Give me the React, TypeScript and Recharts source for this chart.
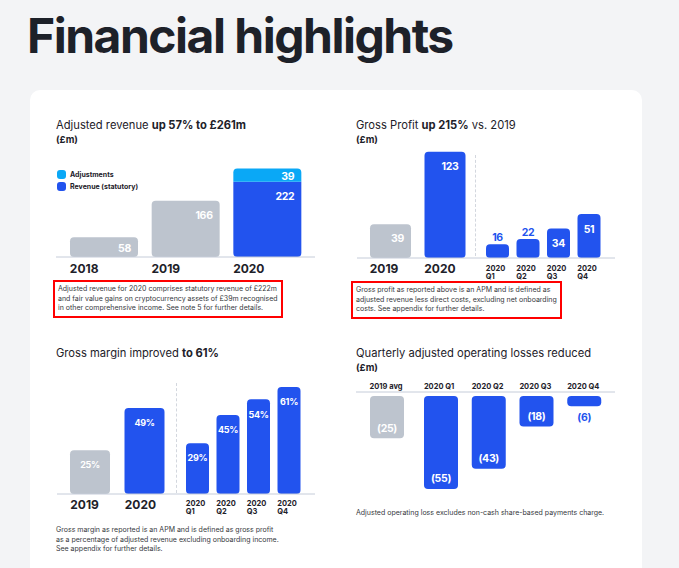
import React from "react";
import { BarChart, Bar, XAxis, YAxis, Cell, LabelList, Legend, Rectangle } from "recharts";

const BLUE = "#2253ee";
const CYAN = "#0aa8f6";
const GRAY = "#bdc4ce";
const AXIS = "#c5ccd9";
const INK = "#1d2129";
const NOTE = "#35383d";
const PAGE = "#f3f4f6";
const FONT = "Inter, 'Noto Sans', sans-serif";

// Adjusted revenue (£m)
const revenueYears = ["2018", "2019", "2020"];
const revenueStatutory = [58, 166, 222];
const revenueAdjustments = [null, null, 39];

// Gross profit (£m)
const profitYears = ["2019", "2020"];
const profitAnnual = [39, 123];
const profitQuarters = ["2020 Q1", "2020 Q2", "2020 Q3", "2020 Q4"];
const profitQuarterly = [16, 22, 34, 51];

// Gross margin (%)
const marginYears = ["2019", "2020"];
const marginAnnual = [25, 49];
const marginQuarters = ["2020 Q1", "2020 Q2", "2020 Q3", "2020 Q4"];
const marginQuarterly = [29, 45, 54, 61];

// Adjusted operating loss (£m)
const lossBaseline = ["2019 avg"];
const lossBaselineValues = [-25];
const lossQuarters = ["2020 Q1", "2020 Q2", "2020 Q3", "2020 Q4"];
const lossQuarterly = [-55, -43, -18, -6];

const revenueData = revenueYears.map((label, i) => ({
  label,
  statutory: revenueStatutory[i],
  adjustments: revenueAdjustments[i],
}));
const rows = (labels: string[], values: number[]) =>
  labels.map((label, i) => ({ label, value: values[i] }));

const barColor = (label: string) => (label.startsWith("2020") ? BLUE : GRAY);
const noMargin = { top: 0, right: 0, bottom: 0, left: 0 };

function labelText(x: number, cy: number, text: string, fill: string, anchor = "middle", size = 10.5) {
  return (
    <text
      x={x}
      y={cy}
      dy="0.36em"
      fill={fill}
      textAnchor={anchor}
      fontSize={size}
      fontWeight={700}
      letterSpacing={-0.3}
      fontFamily={FONT}
    >
      {text}
    </text>
  );
}

function geom(p: any) {
  const top = Math.min(p.y, p.y + p.height);
  const h = Math.abs(p.height);
  return { top, h, bottom: top + h, cx: p.x + p.width / 2, right: p.x + p.width };
}

// value inside the bar, near its top right corner
const rightLabel = (p: any) => {
  if (p.value == null) return null;
  const g = geom(p);
  return labelText(g.right - 7, g.top + Math.min(14, g.h / 2 + 1), String(p.value), "#fff", "end");
};

// value centred inside the bar, or above it in blue when the bar is short
const centerLabel = (suffix: string, size = 10.5) => (p: any) => {
  const g = geom(p);
  const text = `${p.value}${suffix}`;
  if (g.h < 24) return labelText(g.cx, g.top - 7, text, BLUE, "middle", size);
  return labelText(g.cx, g.top + 15, text, "#fff", "middle", size);
};

// losses shown in brackets near the bar end
const lossLabel = (p: any) => {
  const g = geom(p);
  const text = `(${Math.abs(p.value)})`;
  if (g.h < 20) return labelText(g.cx, g.bottom + 11, text, BLUE);
  return labelText(g.cx, g.bottom - 10.5, text, "#fff");
};

function YearTick(props: any) {
  const { x, y, payload, half, dy } = props;
  return (
    <text x={x - half} y={y + dy} fill={INK} fontSize={12} fontWeight={700} fontFamily={FONT}>
      {payload.value}
    </text>
  );
}

function QuarterTick(props: any) {
  const { x, y, payload, half, dy } = props;
  const [year, q] = String(payload.value).split(" ");
  return (
    <text x={x - half} fill={INK} fontSize={7.5} fontWeight={700} fontFamily={FONT}>
      <tspan x={x - half} y={y + dy}>{year}</tspan>
      <tspan x={x - half} y={y + dy + 8}>{q}</tspan>
    </text>
  );
}

function TopTick(props: any) {
  const { x, y, payload, half } = props;
  return (
    <text x={x - half} y={y - 3} fill={INK} fontSize={7.5} fontWeight={700} fontFamily={FONT}>
      {payload.value}
    </text>
  );
}

const statutoryShape = (p: any) => (
  <Rectangle {...p} radius={p.payload && p.payload.adjustments != null ? [0, 0, 4, 4] : 4} />
);

function RevenueLegend(props: any) {
  const items = [...(props.payload || [])].sort((a: any, b: any) =>
    a.value === "Adjustments" ? -1 : b.value === "Adjustments" ? 1 : 0
  );
  return (
    <div>
      {items.map((it: any) => (
        <div key={it.value} style={{ display: "flex", alignItems: "center", height: 12 }}>
          <span style={{ width: 9, height: 9, borderRadius: 3, background: it.color, marginRight: 4 }} />
          <span style={{ fontSize: 7, fontWeight: 700, color: INK, fontFamily: FONT }}>{it.value}</span>
        </div>
      ))}
    </div>
  );
}

function Abs({ left, top, children, style }: any) {
  return <div style={{ position: "absolute", left, top, ...style }}>{children}</div>;
}

function Title({ x, cy, children }: any) {
  return (
    <Abs left={x} top={cy - 8} style={{ fontSize: 11.2, lineHeight: "16px", color: INK, whiteSpace: "nowrap" }}>
      {children}
    </Abs>
  );
}

function Unit({ x, cy }: any) {
  return (
    <Abs left={x} top={cy - 6} style={{ fontSize: 9.5, lineHeight: "12px", fontWeight: 700, color: INK }}>
      (£m)
    </Abs>
  );
}

function Note({ x, top, children, boxed }: any) {
  return (
    <Abs
      left={x}
      top={top}
      style={{
        fontSize: 7,
        lineHeight: "9.5px",
        color: NOTE,
        whiteSpace: "nowrap",
        padding: boxed ? "2px 3px 3px 3px" : 0,
        border: boxed ? "2px solid #ff0000" : "none",
      }}
    >
      {children}
    </Abs>
  );
}

function SimpleBars({ data, width, height, domain, padding, barSize, tick, label, axisTop }: any) {
  return (
    <BarChart width={width} height={height} data={data} margin={noMargin}>
      <XAxis
        dataKey="label"
        orientation={axisTop ? "top" : "bottom"}
        axisLine={{ stroke: AXIS }}
        tickLine={false}
        tickSize={0}
        tickMargin={0}
        height={axisTop ? 14 : 26}
        padding={padding}
        interval={0}
        tick={tick}
      />
      <YAxis hide domain={domain} allowDataOverflow />
      <Bar dataKey="value" barSize={barSize} radius={4} isAnimationActive={false}>
        {data.map((d: any) => (
          <Cell key={d.label} fill={barColor(d.label)} />
        ))}
        <LabelList dataKey="value" content={label} />
      </Bar>
    </BarChart>
  );
}

export default function App() {
  return (
    <div
      style={{
        position: "absolute",
        left: 0,
        top: 0,
        width: 679,
        height: 568,
        overflow: "hidden",
        background: PAGE,
        fontFamily: FONT,
      }}
    >
      <Abs left={27} top={10} style={{ fontSize: 48, lineHeight: "52px", fontWeight: 700, letterSpacing: -1.5, color: INK, whiteSpace: "nowrap" }}>
        Financial highlights
      </Abs>
      <Abs left={30} top={90} style={{ width: 612, height: 500, background: "#fff", borderRadius: 10 }} />

      {/* Adjusted revenue */}
      <Title x={56} cy={125}>
        Adjusted revenue <b>up 57% to £261m</b>
      </Title>
      <Unit x={56} cy={140} />
      <Abs left={56} top={157}>
        <BarChart width={259} height={120} data={revenueData} margin={noMargin}>
          <XAxis
            dataKey="label"
            axisLine={{ stroke: AXIS }}
            tickLine={false}
            tickSize={0}
            tickMargin={0}
            height={20}
            padding={{ left: 7, right: 7 }}
            interval={0}
            tick={(p: any) => <YearTick {...p} half={34} dy={16} />}
          />
          <YAxis hide domain={[0, 295]} allowDataOverflow />
          <Legend
            layout="vertical"
            align="center"
            verticalAlign="middle"
            wrapperStyle={{ left: 1, top: 11, width: 110, height: 24 }}
            content={(p: any) => <RevenueLegend {...p} />}
          />
          <Bar dataKey="statutory" name="Revenue (statutory)" stackId="rev" fill={BLUE} barSize={68} isAnimationActive={false} shape={statutoryShape}>
            {revenueData.map((d) => (
              <Cell key={d.label} fill={barColor(d.label)} />
            ))}
            <LabelList dataKey="statutory" content={rightLabel} />
          </Bar>
          <Bar dataKey="adjustments" name="Adjustments" stackId="rev" fill={CYAN} barSize={68} radius={[4, 4, 0, 0]} isAnimationActive={false}>
            <LabelList dataKey="adjustments" content={rightLabel} />
          </Bar>
        </BarChart>
      </Abs>
      <Note x={53} top={280} boxed>
        Adjusted revenue for 2020 comprises statutory revenue of £222m
        <br />
        and fair value gains on cryptocurrency assets of £39m recognised
        <br />
        in other comprehensive income. See note 5 for further details.
      </Note>

      {/* Gross profit */}
      <Title x={356} cy={125}>
        Gross Profit <b>up 215%</b> vs. 2019
      </Title>
      <Unit x={356} cy={140} />
      <Abs left={357} top={150}>
        <SimpleBars
          data={rows(profitYears, profitAnnual)}
          width={118}
          height={134}
          domain={[0, 125]}
          padding={{ left: 6, right: 3 }}
          barSize={41}
          tick={(p: any) => <YearTick {...p} half={20.5} dy={15} />}
          label={rightLabel}
        />
      </Abs>
      <Abs left={475} top={155} style={{ height: 101, borderLeft: "1px dashed #d3d7de" }} />
      <Abs left={475} top={150}>
        <SimpleBars
          data={rows(profitQuarters, profitQuarterly)}
          width={140}
          height={134}
          domain={[0, 125]}
          padding={{ left: 7, right: 11 }}
          barSize={23}
          tick={(p: any) => <QuarterTick {...p} half={11.5} dy={13} />}
          label={centerLabel("")}
        />
      </Abs>
      <Note x={351} top={281} boxed>
        Gross profit as reported above is an APM and is defined as
        <br />
        adjusted revenue less direct costs, excluding net onboarding
        <br />
        costs. See appendix for further details.
      </Note>

      {/* Gross margin */}
      <Title x={56} cy={353}>
        Gross margin improved <b>to 61%</b>
      </Title>
      <Abs left={57} top={380}>
        <SimpleBars
          data={rows(marginYears, marginAnnual)}
          width={119}
          height={140}
          domain={[0, 65]}
          padding={{ left: 6, right: 4 }}
          barSize={40}
          tick={(p: any) => <YearTick {...p} half={20} dy={15} />}
          label={centerLabel("%", 9)}
        />
      </Abs>
      <Abs left={176} top={383} style={{ height: 110, borderLeft: "1px dashed #d3d7de" }} />
      <Abs left={176} top={380}>
        <SimpleBars
          data={rows(marginQuarters, marginQuarterly)}
          width={139}
          height={140}
          domain={[0, 65]}
          padding={{ left: 6, right: 11 }}
          barSize={23}
          tick={(p: any) => <QuarterTick {...p} half={11.5} dy={12} />}
          label={centerLabel("%", 9)}
        />
      </Abs>
      <Note x={56} top={525}>
        Gross margin as reported is an APM and is defined as gross profit
        <br />
        as a percentage of adjusted revenue excluding onboarding income.
        <br />
        See appendix for further details.
      </Note>

      {/* Operating losses */}
      <Title x={356} cy={353}>
        Quarterly adjusted operating losses reduced
      </Title>
      <Unit x={356} cy={368} />
      <Abs left={356} top={378}>
        <SimpleBars
          data={rows(lossBaseline, lossBaselineValues)}
          width={58}
          height={116}
          domain={[-58, 2.4]}
          padding={{ left: 3, right: 0 }}
          barSize={34}
          axisTop
          tick={(p: any) => <TopTick {...p} half={17} />}
          label={lossLabel}
        />
      </Abs>
      <Abs left={414} top={378}>
        <SimpleBars
          data={rows(lossQuarters, lossQuarterly)}
          width={201}
          height={116}
          domain={[-58, 2.4]}
          padding={{ left: 3, right: 7 }}
          barSize={34}
          axisTop
          tick={(p: any) => <TopTick {...p} half={17} />}
          label={lossLabel}
        />
      </Abs>
      <Note x={356} top={508}>
        Adjusted operating loss excludes non-cash share-based payments charge.
      </Note>
    </div>
  );
}
